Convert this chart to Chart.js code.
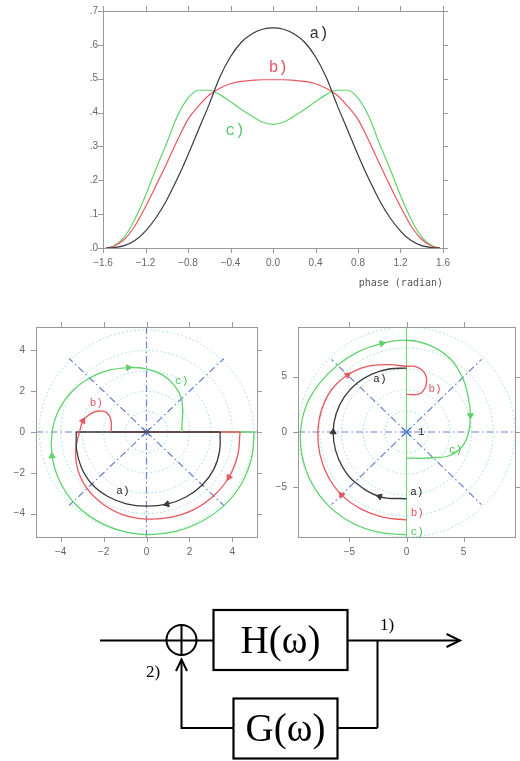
<!DOCTYPE html>
<html>
<head>
<meta charset="utf-8">
<script src="https://cdn.jsdelivr.net/npm/chart.js@4.4.1/dist/chart.umd.min.js"></script>
<style>
html, body { margin: 0; padding: 0; background: #fff; }
#page { position: relative; width: 520px; height: 761px; overflow: hidden; }
canvas { position: absolute; }
#top_chart { left: 40px; top: 0px; }
#left_chart { left: 0px; top: 310px; }
#right_chart { left: 270px; top: 310px; }
#diagram { position: absolute; left: 0; top: 0; }
</style>
</head>
<body>
<div id="page">
<canvas id="top_chart" width="420" height="295"></canvas>
<canvas id="left_chart" width="270" height="255"></canvas>
<canvas id="right_chart" width="250" height="255"></canvas>
<svg id="diagram" width="520" height="761">
  <g stroke="#000" stroke-width="2" fill="none">
    <line x1="100" y1="640.5" x2="166.5" y2="640.5"/>
    <circle cx="181.5" cy="640" r="15"/>
    <line x1="166.5" y1="640.5" x2="196.5" y2="640.5"/>
    <line x1="181.5" y1="625" x2="181.5" y2="655"/>
    <line x1="196.5" y1="640.5" x2="213.5" y2="640.5"/>
    <rect x="213.5" y="610" width="134" height="60" stroke-width="2.2"/>
    <line x1="347.5" y1="640.5" x2="460" y2="640.5"/>
    <polyline points="446.5,634 460,640.5 446.5,647"/>
    <line x1="377.5" y1="640.5" x2="377.5" y2="728"/>
    <rect x="233.5" y="698.5" width="104" height="60" stroke-width="2.2"/>
    <line x1="337.5" y1="728" x2="377.5" y2="728"/>
    <polyline points="233.5,728 181.5,728 181.5,659"/>
    <polyline points="176,671 181.5,659.5 187,671"/>
  </g>
  <g font-family="Liberation Serif, serif" fill="#000">
    <text x="280.5" y="653" font-size="39" text-anchor="middle">H(ω)</text>
    <text x="285.5" y="741" font-size="39" text-anchor="middle">G(ω)</text>
    <text x="380" y="630" font-size="17">1)</text>
    <text x="146" y="677" font-size="17">2)</text>
  </g>
</svg>
</div>
<script>
// top panel: gain vs phase
const phase = [-1.57, -1.5, -1.4, -1.3, -1.2, -1.1, -1.0, -0.9, -0.8, -0.7, -0.6, -0.5, -0.4, -0.3, -0.2, -0.1, 0,
               0.1, 0.2, 0.3, 0.4, 0.5, 0.6, 0.7, 0.8, 0.9, 1.0, 1.1, 1.2, 1.3, 1.4, 1.5, 1.57];
const gain_a = [0, 0.001, 0.007, 0.022, 0.05, 0.09, 0.142, 0.205, 0.275, 0.35, 0.425, 0.505, 0.565, 0.607, 0.632, 0.646, 0.65,
                0.646, 0.632, 0.607, 0.565, 0.505, 0.425, 0.35, 0.275, 0.205, 0.142, 0.09, 0.05, 0.022, 0.007, 0.001, 0];
const gain_b = [0, 0.005, 0.025, 0.065, 0.122, 0.185, 0.25, 0.318, 0.38, 0.42, 0.452, 0.472, 0.485, 0.492, 0.495, 0.497, 0.497,
                0.497, 0.495, 0.492, 0.485, 0.472, 0.452, 0.42, 0.38, 0.318, 0.25, 0.185, 0.122, 0.065, 0.025, 0.005, 0];
const gain_c = [0, 0.006, 0.032, 0.085, 0.155, 0.235, 0.31, 0.39, 0.443, 0.466, 0.466, 0.453, 0.432, 0.41, 0.39, 0.372, 0.365,
                0.372, 0.39, 0.41, 0.432, 0.453, 0.466, 0.466, 0.443, 0.39, 0.31, 0.235, 0.155, 0.085, 0.032, 0.006, 0];
const top_x_ticks = [-1.6, -1.2, -0.8, -0.4, 0, 0.4, 0.8, 1.2, 1.6];
const top_y_ticks = [0, 0.1, 0.2, 0.3, 0.4, 0.5, 0.6, 0.7];

// left polar panel (x, y)
const left_a = [[3.43, 0], [3.41, -0.91], [3.14, -1.82], [2.6, -2.6], [1.84, -3.19], [0.95, -3.54], [0, -3.64],
                [-0.94, -3.52], [-1.82, -3.15], [-2.55, -2.55], [-3.03, -1.75], [-3.26, -0.87], [-3.27, 0]];
const left_b = [[4.36, 0], [4.25, -1.14], [3.84, -2.22], [3.13, -3.13], [2.2, -3.81], [1.12, -4.19], [0, -4.27],
                [-1.09, -4.06], [-2.04, -3.53], [-2.77, -2.77], [-3.2, -1.85], [-3.3, -0.89], [-3.12, 0],
                [-2.96, 0.55], [-2.6, 0.9], [-2.2, 1.03], [-1.85, 0.95], [-1.66, 0.6], [-1.64, 0]];
const left_c = [[5.02, 0], [4.89, -1.31], [4.42, -2.55], [3.61, -3.61], [2.54, -4.4], [1.31, -4.89], [0, -5.03],
                [-1.29, -4.81], [-2.46, -4.26], [-3.42, -3.42], [-4.07, -2.35], [-4.4, -1.18], [-4.4, 0],
                [-4.08, 1.09], [-3.46, 2.0], [-2.65, 2.65], [-1.75, 3.03], [-0.85, 3.16], [0, 3.1],
                [0.75, 2.8], [1.31, 2.27], [1.63, 1.63], [1.69, 0.98], [1.66, 0.45], [1.64, 0]];
const left_ticks = [-4, -2, 0, 2, 4];
const left_rings = [1, 2, 3, 4, 5];

// right polar panel (x, y)
const right_a = [[0, -6.04], [-2.36, -5.84], [-4.53, -4.53], [-5.57, -3.22], [-6.21, -1.66], [-6.42, 0],
                 [-6.16, 1.65], [-5.46, 3.15], [-4.38, 4.38], [-3.03, 5.24], [-1.53, 5.7], [0, 5.78]];
const right_b = [[0, -7.96], [-2.07, -7.71], [-4.01, -6.95], [-5.69, -5.69], [-6.89, -3.98], [-7.58, -2.03],
                 [-7.76, 0], [-7.44, 1.99], [-6.58, 3.8], [-5.16, 5.16], [-3.43, 5.93], [-1.63, 6.09], [0, 5.95],
                 [0.87, 5.9], [1.6, 5.31], [1.75, 4.42], [1.45, 3.69], [1.0, 3.4], [0, 3.4]];
const right_c = [[0, -9.3], [-2.43, -9.06], [-4.75, -8.23], [-6.75, -6.75], [-8.23, -4.75], [-9.08, -2.43],
                 [-9.28, 0], [-8.79, 2.36], [-7.62, 4.4], [-6.05, 6.05], [-4.2, 7.27], [-2.15, 8.02], [0, 8.3],
                 [2.1, 7.82], [3.83, 6.62], [4.91, 4.91], [5.41, 3.13], [5.6, 1.5], [5.45, 0], [4.88, -1.31],
                 [3.72, -2.15], [2.33, -2.33], [1.38, -2.38], [0.63, -2.37], [0, -2.35]];
const right_ticks = [-5, 0, 5];
const right_rings = [1.9, 3.8, 5.7, 7.6, 9.5];

const BLACK = '#3a3a3a';
const RED = '#e8575f';
const GREEN = '#5fd36a';
const TICK_FONT = {family: 'Liberation Sans', size: 10};

function fmt_minus(v, digits) {
    const s = Math.abs(v).toFixed(digits);
    return v < 0 ? '\u2212' + s : s;
}

function arrow_rotation(ctx) {
    const pts = ctx.dataset.data, i = ctx.dataIndex;
    const sx = ctx.chart.scales.x, sy = ctx.chart.scales.y;
    if (!sx || !sy || !pts[i]) return 0;
    const p0 = pts[Math.max(i - 1, 0)], p1 = pts[Math.min(i + 1, pts.length - 1)];
    const dx = sx.getPixelForValue(p1.x) - sx.getPixelForValue(p0.x);
    const dy = sy.getPixelForValue(p1.y) - sy.getPixelForValue(p0.y);
    return Math.atan2(dx, -dy) * 180 / Math.PI;
}

function curve_set(points, color, arrows) {
    return {
        data: points.map(p => ({x: p[0], y: p[1]})),
        showLine: true,
        borderColor: color,
        backgroundColor: color,
        borderWidth: 1.3,
        tension: 0.4,
        pointStyle: 'triangle',
        pointRadius: ctx => arrows.includes(ctx.dataIndex) ? 3.5 : 0,
        pointRotation: arrow_rotation,
        pointBorderWidth: 1
    };
}

// segment back along the axis, from the last point to the first
function closing_set(points, color) {
    const a = points[points.length - 1], b = points[0];
    return {
        data: [{x: a[0], y: a[1]}, {x: b[0], y: b[1]}],
        showLine: true, borderColor: color, borderWidth: 1.3, tension: 0, pointRadius: 0
    };
}

// frame box with small outward ticks on all four sides
const frame_plugin = {
    id: 'frame_box',
    afterDraw(chart) {
        const {ctx, chartArea: a, scales: {x, y}} = chart;
        ctx.save();
        ctx.strokeStyle = '#999';
        ctx.lineWidth = 1;
        ctx.setLineDash([]);
        ctx.strokeRect(Math.round(a.left) + 0.5, Math.round(a.top) + 0.5,
                       Math.round(a.width), Math.round(a.height));
        ctx.beginPath();
        x.ticks.forEach(t => {
            const px = Math.round(x.getPixelForValue(t.value)) + 0.5;
            ctx.moveTo(px, a.top); ctx.lineTo(px, a.top - 5);
            ctx.moveTo(px, a.bottom); ctx.lineTo(px, a.bottom + 5);
        });
        y.ticks.forEach(t => {
            const py = Math.round(y.getPixelForValue(t.value)) + 0.5;
            ctx.moveTo(a.left, py); ctx.lineTo(a.left - 5, py);
            ctx.moveTo(a.right, py); ctx.lineTo(a.right + 5, py);
        });
        ctx.stroke();
        ctx.restore();
    }
};

function make_notes(items, font) {
    return {
        id: 'notes',
        afterDatasetsDraw(chart) {
            const {ctx, scales: {x, y}} = chart;
            ctx.save();
            ctx.font = font;
            ctx.textAlign = 'center';
            ctx.textBaseline = 'middle';
            items.forEach(n => {
                ctx.fillStyle = n[3];
                ctx.fillText(n[0], x.getPixelForValue(n[1]), y.getPixelForValue(n[2]));
            });
            ctx.restore();
        }
    };
}

// dotted rings, dash-dot axes and diagonals of the polar panels
function make_guides(rings, ray_r, v_color, v_dash) {
    return {
        id: 'guides',
        beforeDatasetsDraw(chart) {
            const {ctx, chartArea: a, scales: {x, y}} = chart;
            const cx = x.getPixelForValue(0), cy = y.getPixelForValue(0);
            ctx.save();
            ctx.beginPath();
            ctx.rect(a.left, a.top, a.width, a.height);
            ctx.clip();
            ctx.lineWidth = 1;
            ctx.strokeStyle = '#8fdcdc';
            ctx.setLineDash([1.5, 2.5]);
            rings.forEach(r => {
                ctx.beginPath();
                ctx.ellipse(cx, cy, x.getPixelForValue(r) - cx, cy - y.getPixelForValue(r), 0, 0, 2 * Math.PI);
                ctx.stroke();
            });
            ctx.strokeStyle = '#6b82d6';
            ctx.lineWidth = 1.2;
            ctx.setLineDash([7, 3, 1.5, 3]);
            const d = ray_r / Math.SQRT2;
            [[d, d], [-d, d], [-d, -d], [d, -d]].forEach(p => {
                ctx.beginPath();
                ctx.moveTo(cx, cy);
                ctx.lineTo(x.getPixelForValue(p[0]), y.getPixelForValue(p[1]));
                ctx.stroke();
            });
            ctx.beginPath();
            ctx.moveTo(a.left, cy);
            ctx.lineTo(a.right, cy);
            ctx.stroke();
            ctx.strokeStyle = v_color;
            ctx.setLineDash(v_dash);
            ctx.beginPath();
            ctx.moveTo(cx, a.top);
            ctx.lineTo(cx, a.bottom);
            ctx.stroke();
            // centre star
            ctx.setLineDash([]);
            ctx.strokeStyle = '#5a78d8';
            ctx.beginPath();
            ctx.moveTo(cx - 4, cy - 4); ctx.lineTo(cx + 4, cy + 4);
            ctx.moveTo(cx - 4, cy + 4); ctx.lineTo(cx + 4, cy - 4);
            ctx.moveTo(cx - 5, cy); ctx.lineTo(cx + 5, cy);
            ctx.stroke();
            ctx.restore();
        }
    };
}

function axis(min, max, ticks, fmt, pad, size) {
    return {
        type: 'linear', min: min, max: max,
        grid: {display: false, drawTicks: false},
        border: {display: false},
        afterBuildTicks: s => { s.ticks = ticks.map(v => ({value: v})); },
        afterFit: s => { if (s.isHorizontal()) s.height = size; else s.width = size; },
        ticks: {padding: pad, color: '#666', font: TICK_FONT, autoSkip: false, maxRotation: 0, callback: fmt}
    };
}

function base_options(padding, scales) {
    return {
        responsive: false,
        animation: false,
        devicePixelRatio: 1,
        events: [],
        layout: {padding: padding},
        plugins: {legend: {display: false}, tooltip: {enabled: false}},
        scales: scales
    };
}

function draw_top_chart() {
    const pts = arr => phase.map((p, i) => ({x: p, y: arr[i]}));
    const line = (arr, color) => ({
        data: pts(arr), showLine: true, borderColor: color, borderWidth: 1.2,
        cubicInterpolationMode: 'monotone', pointRadius: 0
    });
    const x_axis = axis(-1.6, 1.6, top_x_ticks, v => fmt_minus(v, 1), 9, 47);
    x_axis.title = {display: true, text: 'phase (radian)', align: 'end', color: '#555',
                    font: {family: 'DejaVu Sans Mono', size: 10}, padding: {top: 0, bottom: 6}};
    const y_axis = axis(0, 0.7, top_y_ticks, v => v.toFixed(1).replace(/^0/, ''), 5, 63);
    new Chart(document.getElementById('top_chart'), {
        type: 'scatter',
        data: {datasets: [line(gain_a, BLACK), line(gain_b, RED), line(gain_c, GREEN)]},
        options: base_options({top: 11, right: 17, left: 0, bottom: 0}, {x: x_axis, y: y_axis}),
        plugins: [frame_plugin, make_notes([
            ['a)', 0.433, 0.632, '#333'], ['b)', 0.05, 0.533, '#e05560'], ['c)', -0.357, 0.347, '#55cc66']
        ], '16px "Liberation Mono"')]
    });
}

function draw_polar(canvas_id, curves, closing, lim, ticks, rings, ray_r, v_color, v_dash, notes, padding, y_size) {
    const datasets = curves.map(c => curve_set(c[0], c[1], c[2]));
    if (closing) curves.forEach(c => datasets.push(closing_set(c[0], c[1])));
    const fmt = v => fmt_minus(v, 0);
    new Chart(document.getElementById(canvas_id), {
        type: 'scatter',
        data: {datasets: datasets},
        options: base_options(padding, {
            x: axis(-lim, lim, ticks, fmt, 9, 28),
            y: axis(-lim, lim, ticks, fmt, 11, y_size)
        }),
        plugins: [make_guides(rings, ray_r, v_color, v_dash), frame_plugin, make_notes(notes, '11px "Liberation Mono"')]
    });
}

draw_top_chart();

draw_polar('left_chart',
    [[left_a, BLACK, [5]], [left_b, RED, [2, 13]], [left_c, GREEN, [11, 17]]],
    true, 5.15, left_ticks, left_rings, 5.1, '#6b82d6', [7, 3, 1.5, 3],
    [['a)', -1.1, -2.88, '#222'], ['b)', -2.34, 1.42, '#e05560'], ['c)', 1.64, 2.52, '#4cc25a']],
    {top: 12, right: 13, left: 0, bottom: 0}, 36);

draw_polar('right_chart',
    [[right_a, BLACK, [1, 5]], [right_b, RED, [3, 9]], [right_c, GREEN, [11, 17]]],
    false, 9.5, right_ticks, right_rings, 9.3, '#7ad37f', [],
    [['a)', -2.33, 4.75, '#222'], ['a)', 0.9, -5.4, '#222'], ['b)', 2.5, 3.85, '#e05560'],
     ['b)', 0.95, -7.37, '#e05560'], ['c)', 4.3, -1.6, '#4cc25a'], ['c)', 0.95, -9.05, '#4cc25a'],
     ['1', 1.3, 0, '#222']],
    {top: 15, right: 5, left: 0, bottom: 0}, 28);
</script>
</body>
</html>
